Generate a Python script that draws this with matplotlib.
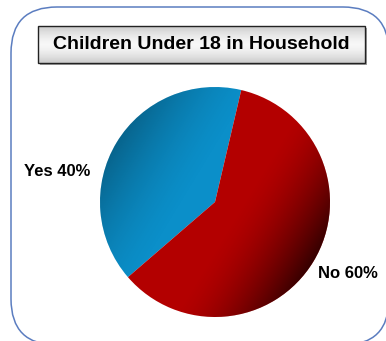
import numpy as np
import matplotlib
matplotlib.use("Agg")
import matplotlib.pyplot as plt
from matplotlib.patches import FancyBboxPatch, Rectangle

plt.rcParams['font.family'] = ['Liberation Sans', 'DejaVu Sans']

title = "Children Under 18 in Household"
labels = ["Yes", "No"]
values = [40, 60]
colors = ["#0b8fc9", "#b30000"]
shade = [0.30, 0.70]   # how dark each slice gets toward its outer edge

W, H = 386, 341
fig = plt.figure(figsize=(W / 100, H / 100), dpi=100)
ax = fig.add_axes([0, 0, 1, 1])

# outer rounded frame, runs off the right and bottom edges
frame = FancyBboxPatch((11, -4), 378, 338, boxstyle="round,pad=0,rounding_size=46",
                       facecolor="white", edgecolor="#5b7dc0", linewidth=1.1, zorder=0)
ax.add_patch(frame)

# pie
cx, cy, R = 215, 139, 115
wedges, _ = ax.pie(values, colors=colors, startangle=76.8, center=(cx, cy), radius=R,
                   wedgeprops=dict(linewidth=0), frame=True)

n = 300
xs = np.linspace(cx - R, cx + R, n)
ys = np.linspace(cy - R, cy + R, n)
xx, yy = np.meshgrid(xs, ys)
for w, s in zip(wedges, shade):
    mid = np.deg2rad((w.theta1 + w.theta2) / 2)
    t = ((xx - cx) * np.cos(mid) + (yy - cy) * np.sin(mid)) / R
    a = np.clip((t - 0.2) / 0.8, 0, 1) ** 1.6 * s
    rgba = np.zeros((n, n, 4))
    rgba[..., 3] = a
    im = ax.imshow(rgba, extent=(cx - R, cx + R, cy - R, cy + R), origin="lower",
                   interpolation="bilinear", zorder=w.get_zorder() + 0.1)
    im.set_clip_path(w)

# slice labels
ax.text(57, H - 172, f"{labels[0]} {values[0]}%", ha="center", va="center",
        fontsize=12, fontweight="bold", color="black", zorder=5)
ax.text(348, H - 274, f"{labels[1]} {values[1]}%", ha="center", va="center",
        fontsize=12, fontweight="bold", color="black", zorder=5)

# title box with grey gradient
bx0, bx1, by0, by1 = 38, 365, H - 63, H - 26
ax.add_patch(Rectangle((bx0 + 1.5, by0 - 1.5), bx1 - bx0, by1 - by0, facecolor="#a0a0a0",
                       edgecolor="none", zorder=5))
g = np.linspace(-1, 1, 64)
shadev = 0.97 - 0.17 * np.abs(g) ** 1.5
grad = np.repeat(shadev[:, None], 4, axis=1)
grad_rgb = np.dstack([grad, grad, grad])
ax.imshow(grad_rgb, extent=(bx0, bx1, by0, by1), origin="lower", aspect="auto",
          interpolation="bilinear", zorder=6)
ax.add_patch(Rectangle((bx0, by0), bx1 - bx0, by1 - by0, facecolor="none",
                       edgecolor="#222222", linewidth=1.0, zorder=7))
ax.text((bx0 + bx1) / 2, (by0 + by1) / 2, title, ha="center", va="center",
        fontsize=14, fontweight="bold", color="black", zorder=8)

ax.set_xlim(0, W)
ax.set_ylim(0, H)
ax.set_aspect("auto")
ax.axis("off")

fig.savefig("out.png", dpi=100)
